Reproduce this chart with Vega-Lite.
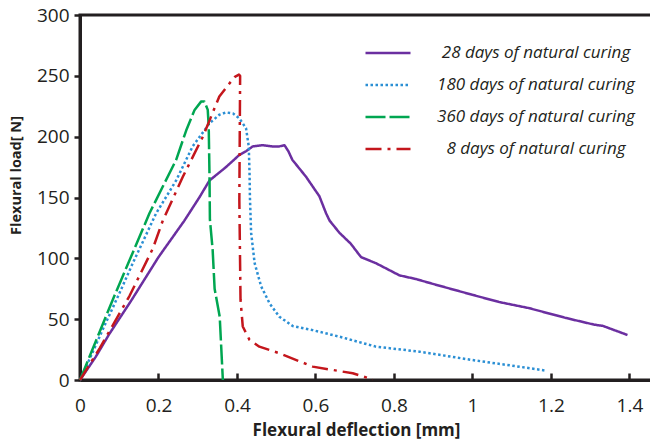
{
  "$schema": "https://vega.github.io/schema/vega-lite/v6.json",
  "width": 573,
  "height": 365,
  "autosize": {"type": "none"},
  "padding": {"left": 80, "top": 15, "right": 0, "bottom": 59},
  "background": "white",
  "config": {
    "view": {"stroke": "#231f20", "strokeWidth": 3},
    "font": "Open Sans"
  },
  "data": {
    "values": [
      {"s": "28 days of natural curing", "i": 1, "x": 0, "y": 0},
      {"s": "28 days of natural curing", "i": 2, "x": 0.04, "y": 19},
      {"s": "28 days of natural curing", "i": 3, "x": 0.075, "y": 38},
      {"s": "28 days of natural curing", "i": 4, "x": 0.13, "y": 65},
      {"s": "28 days of natural curing", "i": 5, "x": 0.2, "y": 101},
      {"s": "28 days of natural curing", "i": 6, "x": 0.266, "y": 131},
      {"s": "28 days of natural curing", "i": 7, "x": 0.304, "y": 150},
      {"s": "28 days of natural curing", "i": 8, "x": 0.33, "y": 164},
      {"s": "28 days of natural curing", "i": 9, "x": 0.372, "y": 175},
      {"s": "28 days of natural curing", "i": 10, "x": 0.406, "y": 185},
      {"s": "28 days of natural curing", "i": 11, "x": 0.423, "y": 188},
      {"s": "28 days of natural curing", "i": 12, "x": 0.44, "y": 192},
      {"s": "28 days of natural curing", "i": 13, "x": 0.465, "y": 193},
      {"s": "28 days of natural curing", "i": 14, "x": 0.49, "y": 192},
      {"s": "28 days of natural curing", "i": 15, "x": 0.508, "y": 192},
      {"s": "28 days of natural curing", "i": 16, "x": 0.521, "y": 193},
      {"s": "28 days of natural curing", "i": 17, "x": 0.531, "y": 188},
      {"s": "28 days of natural curing", "i": 18, "x": 0.541, "y": 181},
      {"s": "28 days of natural curing", "i": 19, "x": 0.576, "y": 167},
      {"s": "28 days of natural curing", "i": 20, "x": 0.61, "y": 151},
      {"s": "28 days of natural curing", "i": 21, "x": 0.627, "y": 137},
      {"s": "28 days of natural curing", "i": 22, "x": 0.636, "y": 131},
      {"s": "28 days of natural curing", "i": 23, "x": 0.661, "y": 121},
      {"s": "28 days of natural curing", "i": 24, "x": 0.69, "y": 112},
      {"s": "28 days of natural curing", "i": 25, "x": 0.716, "y": 101},
      {"s": "28 days of natural curing", "i": 26, "x": 0.754, "y": 96},
      {"s": "28 days of natural curing", "i": 27, "x": 0.814, "y": 86},
      {"s": "28 days of natural curing", "i": 28, "x": 0.856, "y": 83},
      {"s": "28 days of natural curing", "i": 29, "x": 0.899, "y": 79},
      {"s": "28 days of natural curing", "i": 30, "x": 1.0, "y": 70},
      {"s": "28 days of natural curing", "i": 31, "x": 1.069, "y": 64},
      {"s": "28 days of natural curing", "i": 32, "x": 1.145, "y": 59},
      {"s": "28 days of natural curing", "i": 33, "x": 1.238, "y": 51},
      {"s": "28 days of natural curing", "i": 34, "x": 1.31, "y": 45.5},
      {"s": "28 days of natural curing", "i": 35, "x": 1.332, "y": 44.5},
      {"s": "28 days of natural curing", "i": 36, "x": 1.395, "y": 37},
      {"s": "180 days of natural curing", "i": 1, "x": 0, "y": 0},
      {"s": "180 days of natural curing", "i": 2, "x": 0.02, "y": 14},
      {"s": "180 days of natural curing", "i": 3, "x": 0.06, "y": 43},
      {"s": "180 days of natural curing", "i": 4, "x": 0.1, "y": 71},
      {"s": "180 days of natural curing", "i": 5, "x": 0.1345, "y": 96},
      {"s": "180 days of natural curing", "i": 6, "x": 0.194, "y": 137},
      {"s": "180 days of natural curing", "i": 7, "x": 0.245, "y": 164},
      {"s": "180 days of natural curing", "i": 8, "x": 0.287, "y": 192},
      {"s": "180 days of natural curing", "i": 9, "x": 0.33, "y": 211},
      {"s": "180 days of natural curing", "i": 10, "x": 0.355, "y": 218},
      {"s": "180 days of natural curing", "i": 11, "x": 0.372, "y": 220},
      {"s": "180 days of natural curing", "i": 12, "x": 0.39, "y": 219},
      {"s": "180 days of natural curing", "i": 13, "x": 0.406, "y": 215},
      {"s": "180 days of natural curing", "i": 14, "x": 0.423, "y": 207},
      {"s": "180 days of natural curing", "i": 15, "x": 0.43, "y": 192},
      {"s": "180 days of natural curing", "i": 16, "x": 0.432, "y": 170},
      {"s": "180 days of natural curing", "i": 17, "x": 0.433, "y": 150},
      {"s": "180 days of natural curing", "i": 18, "x": 0.436, "y": 121},
      {"s": "180 days of natural curing", "i": 19, "x": 0.445, "y": 96},
      {"s": "180 days of natural curing", "i": 20, "x": 0.4615, "y": 77},
      {"s": "180 days of natural curing", "i": 21, "x": 0.483, "y": 63},
      {"s": "180 days of natural curing", "i": 22, "x": 0.508, "y": 52},
      {"s": "180 days of natural curing", "i": 23, "x": 0.542, "y": 44.4},
      {"s": "180 days of natural curing", "i": 24, "x": 0.593, "y": 41},
      {"s": "180 days of natural curing", "i": 25, "x": 0.661, "y": 35.6},
      {"s": "180 days of natural curing", "i": 26, "x": 0.754, "y": 27.4},
      {"s": "180 days of natural curing", "i": 27, "x": 0.865, "y": 23.3},
      {"s": "180 days of natural curing", "i": 28, "x": 1.0, "y": 16.4},
      {"s": "180 days of natural curing", "i": 29, "x": 1.12, "y": 10.9},
      {"s": "180 days of natural curing", "i": 30, "x": 1.187, "y": 7.7},
      {"s": "360 days of natural curing", "i": 1, "x": 0, "y": 0},
      {"s": "360 days of natural curing", "i": 2, "x": 0.0835, "y": 66},
      {"s": "360 days of natural curing", "i": 3, "x": 0.177, "y": 137},
      {"s": "360 days of natural curing", "i": 4, "x": 0.211, "y": 159},
      {"s": "360 days of natural curing", "i": 5, "x": 0.245, "y": 181},
      {"s": "360 days of natural curing", "i": 6, "x": 0.2705, "y": 205},
      {"s": "360 days of natural curing", "i": 7, "x": 0.292, "y": 222},
      {"s": "360 days of natural curing", "i": 8, "x": 0.309, "y": 229},
      {"s": "360 days of natural curing", "i": 9, "x": 0.317, "y": 229},
      {"s": "360 days of natural curing", "i": 10, "x": 0.3255, "y": 222},
      {"s": "360 days of natural curing", "i": 11, "x": 0.328, "y": 208},
      {"s": "360 days of natural curing", "i": 12, "x": 0.33, "y": 167},
      {"s": "360 days of natural curing", "i": 13, "x": 0.331, "y": 132},
      {"s": "360 days of natural curing", "i": 14, "x": 0.338, "y": 107},
      {"s": "360 days of natural curing", "i": 15, "x": 0.343, "y": 75},
      {"s": "360 days of natural curing", "i": 16, "x": 0.356, "y": 52},
      {"s": "360 days of natural curing", "i": 17, "x": 0.364, "y": 0},
      {"s": "8 days of natural curing", "i": 1, "x": 0, "y": 0},
      {"s": "8 days of natural curing", "i": 2, "x": 0.05, "y": 26},
      {"s": "8 days of natural curing", "i": 3, "x": 0.126, "y": 69},
      {"s": "8 days of natural curing", "i": 4, "x": 0.1855, "y": 108},
      {"s": "8 days of natural curing", "i": 5, "x": 0.211, "y": 131},
      {"s": "8 days of natural curing", "i": 6, "x": 0.262, "y": 167},
      {"s": "8 days of natural curing", "i": 7, "x": 0.313, "y": 200},
      {"s": "8 days of natural curing", "i": 8, "x": 0.355, "y": 233},
      {"s": "8 days of natural curing", "i": 9, "x": 0.3935, "y": 249},
      {"s": "8 days of natural curing", "i": 10, "x": 0.405, "y": 251},
      {"s": "8 days of natural curing", "i": 11, "x": 0.408, "y": 250},
      {"s": "8 days of natural curing", "i": 12, "x": 0.407, "y": 200},
      {"s": "8 days of natural curing", "i": 13, "x": 0.406, "y": 148},
      {"s": "8 days of natural curing", "i": 14, "x": 0.409, "y": 66},
      {"s": "8 days of natural curing", "i": 15, "x": 0.4147, "y": 44},
      {"s": "8 days of natural curing", "i": 16, "x": 0.432, "y": 33},
      {"s": "8 days of natural curing", "i": 17, "x": 0.457, "y": 27.4},
      {"s": "8 days of natural curing", "i": 18, "x": 0.508, "y": 22},
      {"s": "8 days of natural curing", "i": 19, "x": 0.593, "y": 11},
      {"s": "8 days of natural curing", "i": 20, "x": 0.695, "y": 5.5},
      {"s": "8 days of natural curing", "i": 21, "x": 0.746, "y": 0.5}
    ]
  },
  "mark": {"type": "line", "strokeWidth": 2.5, "strokeCap": "butt", "strokeJoin": "round"},
  "encoding": {
    "x": {
      "field": "x",
      "type": "quantitative",
      "scale": {"domain": [0, 1.46], "nice": false, "zero": false},
      "axis": {
        "values": [0, 0.2, 0.4, 0.6, 0.8, 1, 1.2, 1.4],
        "labelExpr": "'' + datum.value",
        "grid": false,
        "domainColor": "#231f20",
        "domainWidth": 3,
        "tickColor": "#231f20",
        "tickWidth": 2.5,
        "tickSize": -7,
        "labelPadding": 23,
        "labelFontSize": 19,
        "labelColor": "#231f20",
        "labelFlush": false,
        "title": "Flexural deflection [mm]",
        "titleFontSize": 17,
        "titleFontWeight": "bold",
        "titleColor": "#231f20",
        "titleX": 276,
        "titleY": 55,
        "titleAlign": "center",
        "titleBaseline": "alphabetic"
      }
    },
    "y": {
      "field": "y",
      "type": "quantitative",
      "scale": {"domain": [0, 300], "nice": false},
      "axis": {
        "values": [0, 50, 100, 150, 200, 250, 300],
        "grid": false,
        "domainColor": "#231f20",
        "domainWidth": 3,
        "tickColor": "#231f20",
        "tickWidth": 2.5,
        "tickSize": 6,
        "labelPadding": 5,
        "labelFontSize": 19,
        "labelColor": "#231f20",
        "labelFlush": false,
        "title": "Flexural load[ N]",
        "titleFontSize": 14.5,
        "titleFontWeight": "bold",
        "titleColor": "#231f20",
        "titleAngle": -90,
        "titleX": -60,
        "titleY": 160,
        "titleAlign": "center",
        "titleBaseline": "alphabetic"
      }
    },
    "order": {"field": "i", "type": "quantitative"},
    "color": {
      "field": "s",
      "type": "nominal",
      "scale": {
        "domain": ["28 days of natural curing", "180 days of natural curing", "360 days of natural curing", "8 days of natural curing"],
        "range": ["#6b2fa0", "#2b8fd4", "#00a651", "#c4161c"]
      },
      "legend": {
        "title": null,
        "orient": "none",
        "legendX": 284,
        "legendY": 14,
        "padding": 0,
        "symbolType": "stroke",
        "symbolSize": 2025,
        "symbolStrokeWidth": 2.5,
        "labelFontSize": 17,
        "labelFontStyle": "italic",
        "labelColor": "#231f20",
        "labelAlign": "center",
        "labelOffset": 124,
        "labelLimit": 0,
        "rowPadding": -15
      }
    },
    "strokeDash": {
      "field": "s",
      "type": "nominal",
      "scale": {
        "domain": ["28 days of natural curing", "180 days of natural curing", "360 days of natural curing", "8 days of natural curing"],
        "range": [[1, 0], [2.5, 2.5], [20, 4], [16, 6, 3, 6]]
      },
      "legend": {
        "title": null,
        "orient": "none",
        "legendX": 284,
        "legendY": 14,
        "padding": 0,
        "symbolType": "stroke",
        "symbolSize": 2025,
        "symbolStrokeWidth": 2.5,
        "labelFontSize": 17,
        "labelFontStyle": "italic",
        "labelColor": "#231f20",
        "labelAlign": "center",
        "labelOffset": 124,
        "labelLimit": 0,
        "rowPadding": -15
      }
    }
  }
}
